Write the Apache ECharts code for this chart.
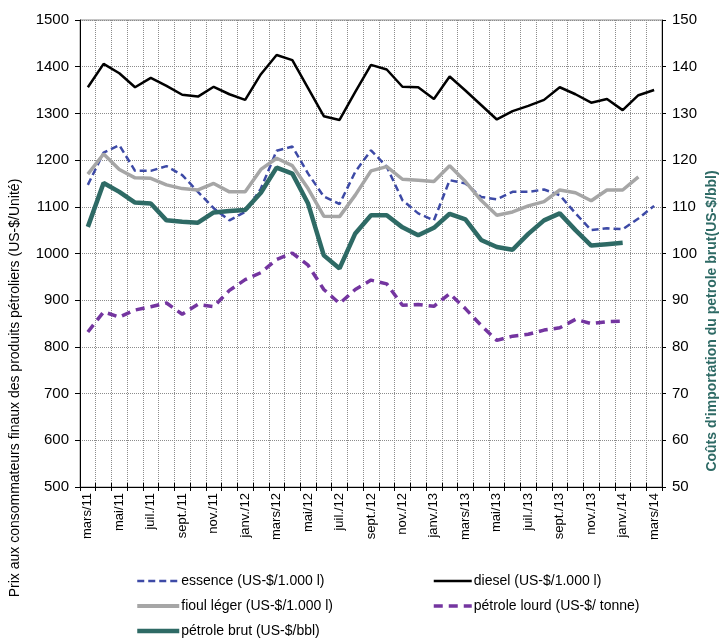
<!DOCTYPE html>
<html>
<head>
<meta charset="utf-8">
<title>Prix des produits pétroliers</title>
<script src="https://cdn.jsdelivr.net/npm/echarts@6/dist/echarts.min.js"></script>
<style>
  html, body { margin: 0; padding: 0; background: #fff; }
  #chart { width: 720px; height: 644px; }
</style>
</head>
<body>
<div id="chart"></div>
<script>
// mois (mars/11 -> mars/14)
var months = [
  'mars/11', 'avr./11', 'mai/11', 'juin/11', 'juil./11', 'août/11', 'sept./11', 'oct./11', 'nov./11', 'déc./11',
  'janv./12', 'févr./12', 'mars/12', 'avr./12', 'mai/12', 'juin/12', 'juil./12', 'août/12', 'sept./12', 'oct./12', 'nov./12', 'déc./12',
  'janv./13', 'févr./13', 'mars/13', 'avr./13', 'mai/13', 'juin/13', 'juil./13', 'août/13', 'sept./13', 'oct./13', 'nov./13', 'déc./13',
  'janv./14', 'févr./14', 'mars/14'
];

// US-$/1.000 l
var essence = [
  1147, 1216, 1232, 1177, 1177, 1187, 1168, 1132, 1097, 1071,
  1089, 1139, 1220, 1229, 1171, 1122, 1106, 1175, 1221, 1186, 1114, 1086,
  1071, 1157, 1150, 1121, 1116, 1132, 1132, 1137, 1125, 1086, 1050, 1054,
  1052, 1075, 1102
];
var diesel = [
  1356, 1406, 1386, 1356, 1376, 1359, 1340, 1336, 1357, 1341,
  1329, 1384, 1425, 1414, 1354, 1294, 1286, 1346, 1404, 1394, 1357, 1356,
  1331, 1379, 1349, 1318, 1287, 1305, 1316, 1329, 1356, 1341, 1323, 1331,
  1307, 1339, 1350
];
var fioulLeger = [
  1170, 1213, 1180, 1162, 1161, 1147, 1139, 1136, 1150, 1132,
  1132, 1180, 1204, 1188, 1139, 1080, 1079, 1125, 1177, 1186, 1159, 1157,
  1154, 1188, 1154, 1114, 1082, 1089, 1102, 1111, 1136, 1130, 1113, 1136,
  1136, 1164, null
];
// US-$/ tonne
var petroleLourd = [
  832, 875, 864, 879, 886, 894, 870, 891, 886, 921,
  944, 959, 987, 1001, 975, 923, 893, 923, 943, 935, 889, 891,
  887, 914, 882, 846, 814, 823, 827, 836, 841, 859, 850, 854,
  855, null, null
];
// US-$/bbl (axe de droite)
var petroleBrut = [
  105.7, 115.1, 113.2, 110.9, 110.7, 107.1, 106.8, 106.6, 108.8, 109.1,
  109.3, 113.0, 118.4, 117.1, 110.7, 99.6, 96.8, 104.3, 108.2, 108.2, 105.6, 103.9,
  105.5, 108.5, 107.3, 102.9, 101.4, 100.8, 104.2, 107.1, 108.6, 105.0, 101.7, 102.0,
  102.3, null, null
];

var leftTicks = { min: 500, max: 1500, interval: 100 };
var rightTicks = { min: 50, max: 150, interval: 10 };

var chart = echarts.init(document.getElementById('chart'));
var font = 'Liberation Sans, Arial, sans-serif';

var gridLine = { show: true, lineStyle: { color: '#8c8c8c', type: 'dotted', width: 1 } };

// légende : seulement le trait, pas de symbole
var legendBase = {
  orient: 'vertical',
  top: 574,
  padding: 0,
  height: 70,
  itemWidth: 42, itemHeight: 14, itemGap: 11,
  itemStyle: { opacity: 0 },
  textStyle: { fontSize: 14, color: '#000', fontFamily: font, padding: [0, 0, 0, -3] }
};

var option = {
  animation: false,
  textStyle: { fontFamily: font },
  grid: {
    left: 80, right: 58, top: 20, bottom: 157,
    show: true, borderColor: '#8c8c8c', borderWidth: 1
  },
  legend: [
    Object.assign({}, legendBase, {
      left: 135,
      data: [
        { name: 'essence (US-$/1.000 l)', lineStyle: { width: 2.5 } },
        { name: 'fioul léger (US-$/1.000 l)', lineStyle: { width: 4 } },
        { name: 'pétrole brut (US-$/bbl)', lineStyle: { width: 4.5 } }
      ]
    }),
    Object.assign({}, legendBase, {
      left: 432, itemWidth: 38,
      data: [
        { name: 'diesel (US-$/1.000 l)', lineStyle: { width: 2.5 } },
        { name: 'pétrole lourd (US-$/ tonne)', lineStyle: { width: 3.5 } }
      ]
    })
  ],
  xAxis: [
    {
      type: 'category',
      data: months,
      boundaryGap: true,
      axisLine: { lineStyle: { color: '#000', width: 1 } },
      axisTick: { show: true, interval: 0, length: 4, lineStyle: { color: '#000' } },
      axisLabel: { interval: 1, rotate: 90, fontSize: 13, color: '#000', margin: 6, fontFamily: font },
      splitLine: { show: true, interval: 0, lineStyle: gridLine.lineStyle }
    },
    {
      // petits traits au-dessus de l'axe (ticks croisés)
      type: 'category',
      data: months,
      position: 'bottom',
      boundaryGap: true,
      axisLine: { show: false },
      axisTick: { show: true, inside: true, interval: 0, length: 4, lineStyle: { color: '#000' } },
      axisLabel: { show: false },
      splitLine: { show: false }
    }
  ],
  yAxis: [
    {
      type: 'value',
      min: leftTicks.min, max: leftTicks.max, interval: leftTicks.interval,
      axisLine: { show: true, lineStyle: { color: '#000' } },
      axisTick: { show: true, length: 5, lineStyle: { color: '#000' } },
      axisLabel: { fontSize: 15, color: '#000', margin: 11, fontFamily: font, formatter: function (v) { return String(v); } },
      splitLine: gridLine
    },
    {
      type: 'value',
      position: 'right',
      min: rightTicks.min, max: rightTicks.max, interval: rightTicks.interval,
      axisLine: { show: true, lineStyle: { color: '#000' } },
      axisTick: { show: true, length: 4, lineStyle: { color: '#000' } },
      axisLabel: { fontSize: 15, color: '#000', margin: 10, fontFamily: font, formatter: function (v) { return String(v); } },
      splitLine: { show: false }
    }
  ],
  // titres des axes, placés comme dans l'original
  graphic: [
    {
      type: 'text',
      x: 15, y: 388,
      rotation: Math.PI / 2,
      style: {
        text: 'Prix aux consommateurs finaux des produits pétroliers (US-$/Unité)',
        font: '14px ' + font,
        fill: '#000',
        textAlign: 'center',
        textVerticalAlign: 'middle'
      }
    },
    {
      type: 'text',
      x: 712, y: 321,
      rotation: Math.PI / 2,
      style: {
        text: "Coûts d'importation du petrole brut(US-$/bbl)",
        font: 'bold 14px ' + font,
        fill: '#2e6a65',
        textAlign: 'center',
        textVerticalAlign: 'middle'
      }
    }
  ],
  series: [
    {
      name: 'essence (US-$/1.000 l)',
      type: 'line',
      data: essence,
      symbol: 'none',
      color: '#3d4aa6',
      lineStyle: { width: 2.5, type: [7, 4] }
    },
    {
      name: 'diesel (US-$/1.000 l)',
      type: 'line',
      data: diesel,
      symbol: 'none',
      color: '#000',
      lineStyle: { width: 2.5 }
    },
    {
      name: 'fioul léger (US-$/1.000 l)',
      type: 'line',
      data: fioulLeger,
      symbol: 'none',
      color: '#a6a6a6',
      lineStyle: { width: 3.5 }
    },
    {
      name: 'pétrole lourd (US-$/ tonne)',
      type: 'line',
      data: petroleLourd,
      symbol: 'none',
      color: '#7435a0',
      lineStyle: { width: 3.5, type: [9, 6] }
    },
    {
      name: 'pétrole brut (US-$/bbl)',
      type: 'line',
      data: petroleBrut,
      yAxisIndex: 1,
      symbol: 'none',
      color: '#2e6a65',
      lineStyle: { width: 4.5 }
    }
  ]
};

chart.setOption(option);
</script>
</body>
</html>
